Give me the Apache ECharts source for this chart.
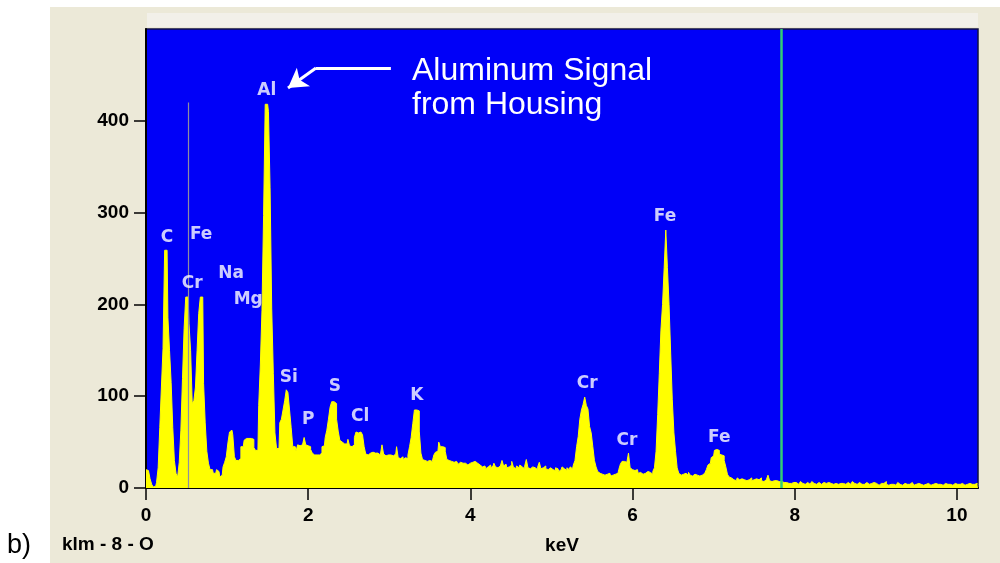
<!DOCTYPE html>
<html><head><meta charset="utf-8">
<script src="https://cdn.jsdelivr.net/npm/echarts@6/dist/echarts.min.js"></script>
<style>html,body{margin:0;padding:0;background:#fff}#c{width:1000px;height:563px}</style>
</head><body><div id="c"></div>
<script>
// EDS spectrum, channel width 0.02 keV, counts per channel
const channelWidth = 0.02;
const counts = [
// 0.00 - 0.98
20,19,17,10,4,1,2,6,22,66, 110,152,259,259,186,150,115,66,30,16,
12,28,63,119,174,208,208,179,150,92, 95,110,150,190,208,208,114,71,40,27,
20,20,16,16,20,18,12,14,23,28,
// 1.00 - 1.98
34,49,61,63,58,34,30,30,32,45, 45,52,54,54,55,54,53,44,41,41,
90,134,193,297,418,418,410,327,196,125, 60,43,43,71,75,85,95,107,104,85,
66,45,45,40,47,46,47,45,55,47,
// 2.00 - 2.98
46,45,42,38,36,36,35,36,38,45, 46,55,63,75,88,94,94,92,75,62,
52,50,48,49,48,53,46,45,47,55, 61,60,61,59,58,45,37,36,38,37,
39,38,37,38,36,38,47,37,35,36,
// 3.00 - 3.98
34,36,35,33,37,45,33,32,34,31, 33,32,36,45,55,70,85,85,84,62,
38,31,30,29,31,30,29,31,36,39, 40,50,45,45,44,40,31,30,29,30,
28,29,27,26,28,27,26,27,25,27,
// 4.00 - 4.98
27,28,27,29,27,25,25,23,22,24, 21,23,25,22,24,27,23,22,24,23,
30,24,26,22,23,25,29,23,21,24, 22,25,23,21,24,31,22,21,23,25,
22,20,23,28,21,22,24,21,20,22,
// 5.00 - 5.98
22,20,19,22,21,18,20,23,21,19, 22,20,23,21,25,30,45,56,75,85,
91,99,90,86,67,60,45,30,23,18, 16,15,16,14,15,14,16,13,14,15,
13,16,20,26,29,29,28,30,38,22,
// 6.00 - 6.98
20,19,18,20,16,17,15,17,16,18, 16,17,15,18,22,40,80,125,172,200,
240,281,240,200,147,96,60,40,22,16, 14,15,13,16,14,17,14,13,15,16,
14,13,15,14,16,18,20,25,27,33,
// 7.00 - 7.98
35,41,42,41,37,36,35,30,23,15, 12,11,9,10,8,11,9,10,12,9,
8,10,9,11,8,9,10,8,9,11, 8,7,9,8,14,8,7,8,9,8,
7,6,7,6,8,6,5,6,5,6,
// 8.00 - 8.98
5,6,4,5,7,5,4,5,6,4, 5,7,5,4,5,6,4,5,6,5,
4,6,5,7,4,5,6,4,5,6, 5,4,5,6,4,5,7,5,4,5,
6,4,5,4,6,5,4,5,4,6,
// 9.00 - 9.98
5,4,3,5,4,5,7,4,3,4, 5,4,3,4,6,4,3,4,5,4,
3,4,6,4,3,4,5,3,4,3, 2,4,5,4,3,4,3,5,4,3,
4,3,4,5,4,3,4,3,4,5,
// 10.00 - 10.26
4,3,4,5,4,3,4,3,5,4,3,4,5,4
];
const xTicks = [0, 2, 4, 6, 8, 10];
const yTicks = [0, 100, 200, 300, 400];
const peakNames = ['Al','C','Fe','Cr','Na','Mg','Si','P','S','Cl','K','Cr','Cr','Fe','Fe'];
const peakLabelKeV = [1.49,0.26,0.68,0.57,1.05,1.26,1.76,2.00,2.33,2.64,3.34,5.44,5.93,6.40,7.07];
const peakLabelCounts = [433,273,276,223,234,205,120,74,110,78,101,114,52,296,55];
const cursorKeV = 7.83;
const greyLineKeV = 0.525, greyLineTop = 420;
const arrowPath = [[3.02, 457.5], [2.096, 457.5], [1.751, 435.7]];

const spectrum = counts.map((c, i) => [+(i * channelWidth).toFixed(2), c]);
const labels = peakNames.map((n, i) => ({ name: n, value: [peakLabelKeV[i], peakLabelCounts[i]] }));

const chart = echarts.init(document.getElementById('c'), null, { renderer: 'canvas' });
const axisFont = { color: '#000', fontWeight: 'bold', fontSize: 19, fontFamily: '"Liberation Sans", Arial, sans-serif' };
chart.setOption({
  animation: false,
  backgroundColor: '#ffffff',
  graphic: [
    { type: 'rect', z: -100, shape: { x: 50, y: 7, width: 950, height: 556 }, style: { fill: '#ECE9D8' } },
    { type: 'rect', z: -99, shape: { x: 147, y: 13, width: 831, height: 14 }, style: { fill: '#F2F0E9' } },
    { type: 'text', left: 412, top: 54, z: 50,
      style: { text: 'Aluminum Signal\nfrom Housing', fill: '#ffffff', font: '32px "Liberation Sans", Arial, sans-serif', lineHeight: 34 } },
    { type: 'text', left: 62, top: 535,
      style: { text: 'klm - 8 - O', fill: '#000', font: 'bold 19px "Liberation Sans", Arial, sans-serif' } },
    { type: 'text', left: 7, top: 532,
      style: { text: 'b)', fill: '#000', font: '27px "Liberation Sans", Arial, sans-serif' } }
  ],
  grid: { left: 146, right: 22, top: 29, bottom: 75, show: true, backgroundColor: '#0000F8', borderColor: '#101040', borderWidth: 1.5 },
  xAxis: {
    type: 'value', min: 0, max: 10.26, interval: 2,
    name: 'keV', nameLocation: 'middle', nameGap: 48,
    nameTextStyle: axisFont,
    axisLine: { lineStyle: { color: '#000', width: 2 } },
    axisTick: { show: true, length: 12, lineStyle: { color: '#000', width: 1.5 }, customValues: xTicks },
    axisLabel: Object.assign({ margin: 18, customValues: xTicks }, axisFont),
    splitLine: { show: false }
  },
  yAxis: {
    type: 'value', min: 0, max: 500, interval: 100,
    axisLine: { show: true, lineStyle: { color: '#000', width: 2 } },
    axisTick: { show: true, length: 12, lineStyle: { color: '#000', width: 1.5 }, customValues: yTicks },
    axisLabel: Object.assign({ margin: 17, customValues: yTicks }, axisFont),
    splitLine: { show: false }
  },
  series: [
    {
      type: 'line', data: spectrum, step: 'middle', symbol: 'none', z: 3,
      lineStyle: { color: '#FFFF00', width: 1 },
      areaStyle: { color: '#FFFF00', opacity: 1 },
      markLine: {
        silent: true, symbol: ['none', 'none'], label: { show: false },
        data: [
          [{ coord: [greyLineKeV, 0], lineStyle: { color: '#8E8EA0', width: 1.2, type: 'solid' } },
           { coord: [greyLineKeV, greyLineTop] }],
          { xAxis: cursorKeV, lineStyle: { color: '#33CC77', width: 2.5, type: 'solid' } }
        ]
      }
    },
    {
      type: 'scatter', data: labels, symbolSize: 0, z: 6,
      label: {
        show: true, position: 'inside', formatter: p => p.name,
        color: '#FFFFFF', fontWeight: 'bold', fontSize: 17,
        fontFamily: '"DejaVu Sans", Verdana, sans-serif'
      },
      markLine: {
        silent: true, label: { show: false }, symbol: ['none', 'none'],
        lineStyle: { color: '#ffffff', width: 3, type: 'solid' },
        data: [
          [{ coord: arrowPath[0] }, { coord: arrowPath[1] }],
          [{ coord: arrowPath[1] }, { coord: arrowPath[2], symbol: 'arrow', symbolSize: [17, 19] }]
        ]
      }
    }
  ]
});
</script></body></html>
